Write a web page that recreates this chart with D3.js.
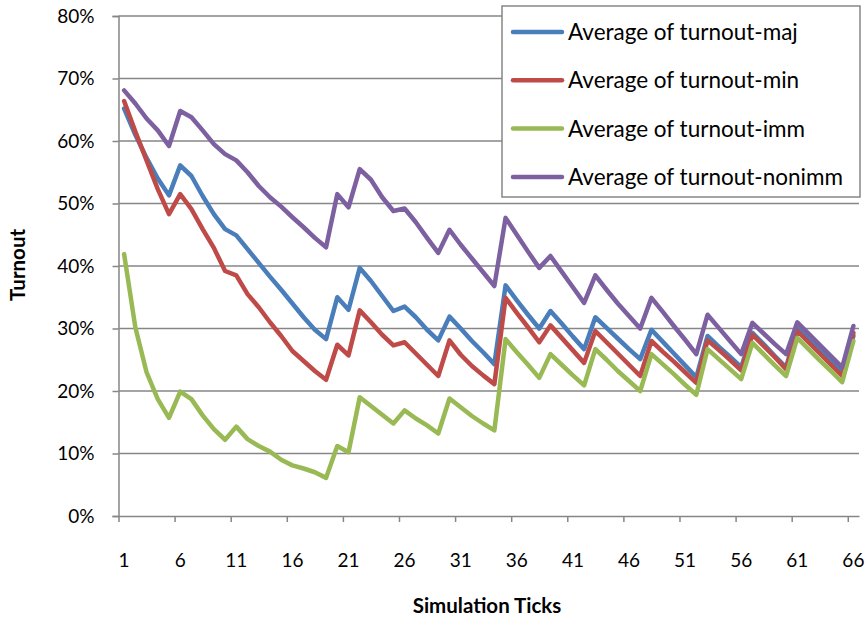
<!DOCTYPE html>
<html>
<head>
<meta charset="utf-8">
<script src="https://cdn.jsdelivr.net/npm/d3@7"></script>
<style>
html,body{margin:0;padding:0;background:#fff;}
svg{display:block;}
text{font-family:"Lato","Open Sans",sans-serif;fill:#000;}
</style>
</head>
<body>
<svg id="chart" width="865" height="617"></svg>
<script>
const ticks = d3.range(1, 67);
const tickLabels = [1,6,11,16,21,26,31,36,41,46,51,56,61,66];
const yTickValues = [0,0.1,0.2,0.3,0.4,0.5,0.6,0.7,0.8];

const seriesNames = ["Average of turnout-maj","Average of turnout-min","Average of turnout-imm","Average of turnout-nonimm"];
const seriesColors = ["#4a7ebb","#be4b48","#98b954","#7d60a0"];

const turnoutMaj = [65.2,61.0,57.3,54.0,51.3,56.1,54.4,51.2,48.3,45.9,44.9,42.7,40.5,38.3,36.2,34.0,31.8,29.8,28.3,35.0,
  33.0,39.7,37.6,35.2,32.8,33.5,31.8,29.8,28.1,31.9,30.0,28.0,26.2,24.3,36.9,34.5,32.2,30.0,32.8,30.8,
  28.7,26.7,31.8,30.1,28.4,26.7,25.1,29.8,27.9,26.0,24.1,22.2,28.8,27.1,25.5,23.8,29.3,27.5,25.6,23.8,
  30.1,28.3,26.6,24.8,23.0,28.8];
const turnoutMin = [66.4,61.5,56.9,52.3,48.3,51.5,49.1,45.9,42.9,39.2,38.5,35.5,33.4,31.0,28.8,26.4,24.8,23.2,21.8,27.4,
  25.7,32.9,31.0,29.0,27.3,27.8,26.0,24.2,22.4,28.1,25.8,24.0,22.5,21.1,34.9,32.5,30.2,27.8,30.5,28.5,
  26.5,24.5,29.6,27.8,26.0,24.2,22.4,28.0,26.3,24.7,23.0,21.3,28.1,26.6,25.0,23.3,29.0,27.2,25.4,23.5,
  29.6,27.8,26.0,24.2,22.4,29.3];
const turnoutImm = [41.9,30.2,23.0,18.7,15.7,19.9,18.7,16.1,13.9,12.2,14.3,12.3,11.2,10.3,9.0,8.1,7.6,7.0,6.1,11.2,
  10.2,19.0,17.6,16.2,14.8,16.9,15.6,14.5,13.2,18.8,17.4,16.0,14.8,13.7,28.3,26.2,24.2,22.1,25.9,24.2,
  22.5,20.9,26.7,25.0,23.2,21.6,20.0,25.9,24.3,22.7,21.0,19.4,26.7,25.1,23.5,21.9,27.7,25.9,24.1,22.4,
  28.5,26.7,24.9,23.2,21.4,28.0];
const turnoutNonimm = [68.1,66.0,63.6,61.7,59.2,64.8,63.8,61.7,59.5,57.9,56.9,55.0,52.8,51.0,49.5,47.8,46.2,44.5,43.0,51.5,
  49.4,55.5,53.8,51.0,48.8,49.2,47.0,44.5,42.1,45.8,43.4,41.2,39.0,36.8,47.7,45.0,42.3,39.7,41.6,39.1,
  36.6,34.1,38.5,36.2,34.0,32.0,30.0,34.9,32.7,30.4,28.2,25.9,32.2,30.1,28.0,25.9,30.9,29.2,27.5,25.9,
  31.0,29.2,27.4,25.6,23.8,30.4];
const seriesValues = [turnoutMaj, turnoutMin, turnoutImm, turnoutNonimm];

const svg = d3.select("#chart");
const plotLeft = 118.5, plotRight = 859, plotTop = 16, plotBottom = 516;

const x = d3.scaleBand().domain(ticks).range([plotLeft, plotRight]).paddingInner(0).paddingOuter(0);
const xEdge = d3.scaleLinear().domain([0, 66]).range([plotLeft, plotRight]);
const y = d3.scaleLinear().domain([0, 0.8]).range([plotBottom, plotTop]);
const gridColor = "#868686";

// gridlines
svg.append("g").selectAll("line").data(yTickValues.filter(v => v > 0)).join("line")
  .attr("x1", plotLeft).attr("x2", plotRight)
  .attr("y1", d => y(d)).attr("y2", d => y(d))
  .attr("stroke", gridColor).attr("stroke-width", 1.5);

// y axis
const yAxis = svg.append("g").attr("transform", `translate(${plotLeft},0)`)
  .call(d3.axisLeft(y).tickValues(yTickValues).tickFormat(d3.format(".0%")).tickSize(6).tickPadding(18));
yAxis.select(".domain").attr("stroke", gridColor).attr("stroke-width", 1.5);
yAxis.selectAll(".tick line").attr("stroke", gridColor).attr("stroke-width", 1.5);
yAxis.selectAll(".tick text").attr("font-size", 19).attr("font-family", "Lato, sans-serif");

// x axis: tick marks at category boundaries every 5
const xTickEdges = tickLabels.map(t => t - 1);
const xAxisMarks = svg.append("g").attr("transform", `translate(0,${plotBottom})`)
  .call(d3.axisBottom(xEdge).tickValues(xTickEdges).tickFormat("").tickSize(6).tickSizeOuter(0));
xAxisMarks.select(".domain").attr("stroke", gridColor).attr("stroke-width", 1.5);
xAxisMarks.selectAll(".tick line").attr("stroke", gridColor).attr("stroke-width", 1.5);

const xAxisLabels = svg.append("g").attr("transform", `translate(0,${plotBottom})`)
  .call(d3.axisBottom(x).tickValues(tickLabels).tickSize(0).tickPadding(38));
xAxisLabels.select(".domain").remove();
xAxisLabels.selectAll(".tick text").attr("font-size", 19).attr("font-family", "Lato, sans-serif");

// lines
const line = d3.line().x((d, i) => x(ticks[i]) + x.bandwidth() / 2).y(d => y(d / 100));
svg.append("g").selectAll("path").data(seriesValues).join("path")
  .attr("d", d => line(d))
  .attr("fill", "none")
  .attr("stroke", (d, i) => seriesColors[i])
  .attr("stroke-width", 4.5)
  .attr("stroke-linejoin", "round")
  .attr("stroke-linecap", "round");

// axis titles
svg.append("text").attr("x", 487).attr("y", 613).attr("text-anchor", "middle")
  .attr("font-size", 20.5).attr("font-weight", "bold").text("Simulation Ticks");
svg.append("text").attr("transform", "translate(25,265) rotate(-90)").attr("text-anchor", "middle")
  .attr("font-size", 20.5).attr("font-weight", "bold").text("Turnout");

// legend
const lg = svg.append("g");
lg.append("rect").attr("x", 502).attr("y", 6).attr("width", 358).attr("height", 191)
  .attr("fill", "#fff").attr("stroke", gridColor).attr("stroke-width", 1.5);
const rows = lg.selectAll("g.row").data(seriesNames).join("g").attr("class", "row")
  .attr("transform", (d, i) => `translate(0,${32 + i * 48.3})`);
rows.append("line").attr("x1", 513).attr("x2", 562).attr("y1", 0).attr("y2", 0)
  .attr("stroke", (d, i) => seriesColors[i]).attr("stroke-width", 4.5).attr("stroke-linecap", "round");
rows.append("text").attr("x", 568).attr("y", 8).attr("font-size", 22.5).text(d => d);
</script>
</body>
</html>
